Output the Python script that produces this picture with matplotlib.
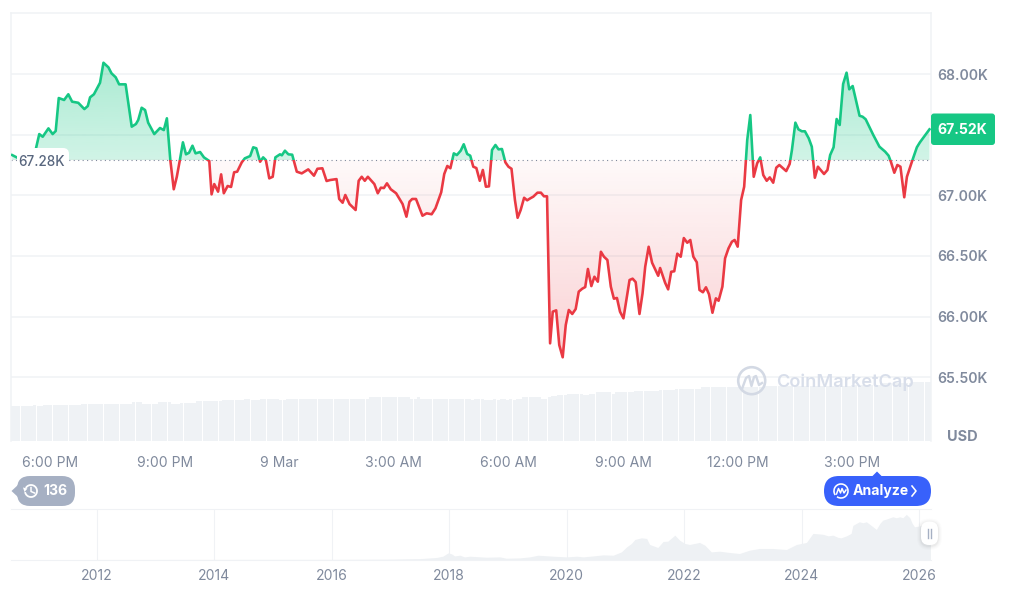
import numpy as np
import matplotlib
matplotlib.use("Agg")
import matplotlib.pyplot as plt
from matplotlib.patches import FancyBboxPatch, Circle, Arc, Polygon, Rectangle

# hours since 6:00 PM and BTC price in USD
hours = [-0.99, -0.84, -0.37, -0.28, -0.19, -0.04, 0.07, 0.15, 0.23, 0.37, 0.48, 0.58, 0.74, 0.90, 0.99, 1.05,
         1.15, 1.31, 1.40, 1.53, 1.61, 1.72, 1.81, 1.98, 2.14, 2.25, 2.31, 2.40, 2.49, 2.57, 2.73, 2.88,
         2.98, 3.06, 3.15, 3.24, 3.32, 3.40, 3.48, 3.56, 3.64, 3.73, 3.81, 3.93, 4.03, 4.17, 4.23, 4.30,
         4.40, 4.48, 4.55, 4.65, 4.74, 4.82, 4.90, 5.02, 5.10, 5.24, 5.32, 5.40, 5.50, 5.58, 5.65, 5.74,
         5.83, 5.90, 6.02, 6.07, 6.15, 6.24, 6.34, 6.46, 6.59, 6.76, 6.91, 7.00, 7.13, 7.24, 7.33, 7.50,
         7.57, 7.66, 7.73, 7.84, 8.00, 8.08, 8.16, 8.24, 8.32, 8.49, 8.58, 8.66, 8.74, 8.82, 8.92, 9.06,
         9.23, 9.33, 9.41, 9.48, 9.58, 9.75, 9.86, 9.99, 10.09, 10.24, 10.32, 10.40, 10.48, 10.57, 10.65, 10.75,
         10.83, 10.92, 11.00, 11.08, 11.16, 11.25, 11.33, 11.41, 11.49, 11.57, 11.66, 11.74, 11.83, 11.92, 12.00, 12.08,
         12.17, 12.24, 12.32, 12.41, 12.49, 12.57, 12.65, 12.76, 12.85, 12.93, 13.01, 13.09, 13.16, 13.25, 13.33, 13.42,
         13.50, 13.58, 13.67, 13.76, 13.84, 13.93, 14.01, 14.08, 14.17, 14.25, 14.34, 14.42, 14.50, 14.59, 14.68, 14.76,
         14.84, 14.92, 15.01, 15.17, 15.25, 15.33, 15.43, 15.51, 15.58, 15.67, 15.76, 15.92, 15.97, 16.10, 16.18, 16.26,
         16.34, 16.42, 16.51, 16.59, 16.68, 16.76, 16.84, 16.93, 17.00, 17.09, 17.17, 17.25, 17.34, 17.43, 17.50, 17.60,
         17.67, 17.76, 17.85, 17.92, 18.00, 18.09, 18.17, 18.25, 18.33, 18.42, 18.51, 18.59, 18.67, 18.76, 18.84, 18.93,
         19.01, 19.09, 19.27, 19.36, 19.42, 19.51, 19.59, 19.68, 19.76, 19.86, 19.94, 20.02, 20.10, 20.26, 20.35, 20.42,
         20.51, 20.59, 20.67, 20.76, 20.85, 20.92, 21.01, 21.19, 21.27, 21.35, 21.55, 21.71, 21.86, 21.95, 22.01, 22.10,
         22.18, 22.26, 22.36, 22.43, 22.56, 22.69, 22.77, 22.91, 23.02]
prices = [67332, 67308, 67382, 67505, 67483, 67552, 67505, 67530, 67802, 67786, 67833, 67772, 67763, 67711, 67736, 67808,
          67833, 67928, 68093, 68055, 68006, 67973, 67915, 67915, 67566, 67588, 67621, 67722, 67703, 67599, 67505, 67555,
          67538, 67635, 67291, 67050, 67153, 67291, 67437, 67338, 67351, 67409, 67346, 67357, 67313, 67283, 67008, 67093,
          67030, 67173, 67017, 67077, 67069, 67190, 67195, 67272, 67305, 67324, 67396, 67388, 67277, 67313, 67291, 67140,
          67153, 67313, 67338, 67330, 67368, 67338, 67335, 67195, 67181, 67214, 67162, 67219, 67223, 67118, 67126, 67134,
          66970, 66939, 67003, 66928, 66879, 67120, 67153, 67120, 67153, 67093, 67017, 67063, 67060, 67099, 67050, 67017,
          66928, 66824, 66947, 66970, 66970, 66832, 66852, 66844, 66893, 67025, 67176, 67242, 67223, 67346, 67332, 67368,
          67421, 67341, 67327, 67236, 67225, 67120, 67209, 67071, 67074, 67374, 67415, 67379, 67382, 67272, 67236, 67219,
          66961, 66815, 66879, 66980, 66959, 66975, 66989, 67022, 67022, 66992, 66992, 65780, 66041, 66052, 65766, 65665,
          65931, 66055, 66022, 66063, 66206, 66230, 66244, 66393, 66252, 66329, 66288, 66535, 66494, 66467, 66247, 66148,
          66154, 66041, 65986, 66302, 66313, 66285, 66022, 66192, 66412, 66576, 66444, 66337, 66401, 66280, 66225, 66370,
          66374, 66519, 66494, 66648, 66609, 66632, 66494, 66448, 66220, 66201, 66242, 66184, 66032, 66151, 66131, 66247,
          66481, 66563, 66618, 66632, 66577, 66961, 67071, 67456, 67662, 67153, 67264, 67313, 67167, 67120, 67148, 67104,
          67228, 67250, 67200, 67258, 67374, 67599, 67544, 67528, 67528, 67470, 67401, 67145, 67236, 67176, 67209, 67332,
          67396, 67629, 67580, 67918, 68011, 67874, 67901, 67656, 67648, 67627, 67497, 67401, 67360, 67327, 67277, 67186,
          67250, 67236, 66984, 67153, 67277, 67396, 67437, 67497, 67544]
base_price = 67290

# 5 minute volume bars, billions USD
volumes = [34.8, 34.8, 34.8, 34.8, 34.8, 34.8, 34.8, 36.0, 34.8, 34.8,
           36.2, 36.2, 36.2, 36.2, 36.2, 36.2, 36.2, 36.2, 36.2, 36.2, 36.2, 36.2,
           37.5, 37.5, 37.5, 37.5, 37.5, 37.5, 37.5, 37.5, 37.5, 37.5, 37.5, 37.5, 37.5, 37.5, 37.5, 37.5,
           38.8, 38.8, 38.8, 37.5, 37.5, 37.5, 37.5, 37.5, 38.8, 38.8, 38.8, 38.8, 37.5, 37.5, 37.5,
           38.5, 38.5, 38.5, 38.5, 38.5, 40.2, 40.2, 40.2, 40.2, 40.2, 40.2, 40.2, 40.2,
           41.2, 41.2, 41.2, 41.2, 41.2, 41.2, 41.2, 42.2, 42.2, 41.2, 41.2, 41.2,
           42.2, 42.2, 42.2, 42.2, 42.2, 42.2, 41.2, 41.2,
           42.5, 42.5, 42.5, 42.5, 42.5, 42.5, 42.5, 42.5, 42.5, 42.5, 42.5,
           42.5, 42.5, 42.5, 42.5, 42.5, 42.5, 42.5, 42.5, 42.5, 42.5, 42.5, 42.5, 42.5, 42.5, 42.5,
           43.8, 43.8, 43.8, 43.8, 43.8, 43.8, 43.8, 43.8, 43.8, 43.8, 43.8, 43.8, 43.8,
           42.5, 42.5, 43.8,
           42.5, 42.5, 42.5, 42.5, 42.5, 42.5, 42.5, 42.5, 42.5, 42.5, 42.5, 42.5, 42.5, 42.5, 42.5, 42.5,
           41.2, 42.5, 42.5, 42.5, 41.2, 41.2, 41.2, 42.5, 41.2, 42.5, 42.5, 41.2, 42.5, 41.2, 42.5, 42.5,
           43.8, 43.8, 43.8, 43.8, 43.8, 43.8, 42.5, 42.5, 43.8, 45.2, 45.2, 46.5, 46.5, 46.5,
           47.5, 47.5, 47.5, 47.5, 47.5, 46.5, 46.5, 47.5, 47.5, 48.8, 48.8, 48.8, 48.8, 48.8, 47.5,
           48.8, 48.8, 48.8, 48.8, 48.8, 48.8, 50.2, 50.2,
           49.8, 49.8, 49.8, 49.8, 49.8, 49.8, 51.2, 51.2, 51.2, 51.2, 51.2,
           52.5, 52.5, 52.5, 52.5, 52.5, 52.5, 52.5, 52.5,
           53.8, 53.8, 53.8, 53.8, 53.8, 53.8, 53.8, 53.8, 53.8, 53.8,
           53.8, 53.8, 53.8, 53.8, 53.8, 53.8, 53.8, 53.8, 53.8, 53.8,
           54.8, 54.8, 54.8, 54.8, 54.8, 54.8, 54.8, 54.8, 54.8, 54.8, 54.8, 54.8, 54.8, 54.8,
           54.8, 54.8, 54.8, 54.8, 54.8, 54.8, 54.8, 54.8, 54.8, 54.8, 54.8, 54.8, 54.8,
           56.5, 56.5, 56.5, 56.5, 56.5, 56.5, 56.5, 56.5, 56.5,
           57.8, 57.8, 57.8, 57.8, 57.8, 57.8, 57.8, 57.8, 57.8, 57.8,
           59.2, 59.2, 59.2, 59.2, 59.2, 59.2]

# all time overview, price in thousands USD
overview_years = [2010.54, 2012.0, 2013.9, 2016.0, 2017.0, 2017.5, 2017.78, 2017.89, 2017.98, 2018.04, 2018.09,
                  2018.18, 2018.26, 2018.35, 2018.63, 2018.86, 2018.97, 2019.20, 2019.37, 2019.51, 2019.77,
                  2020.0, 2020.17, 2020.28, 2020.45, 2020.62, 2020.79, 2020.93, 2021.02, 2021.10, 2021.16,
                  2021.27, 2021.36, 2021.41, 2021.55, 2021.64, 2021.72, 2021.84, 2021.92, 2022.01, 2022.09,
                  2022.26, 2022.35, 2022.46, 2022.60, 2022.77, 2022.94, 2023.11, 2023.28, 2023.50, 2023.74,
                  2023.91, 2024.08, 2024.19, 2024.28, 2024.36, 2024.45, 2024.53, 2024.62, 2024.67, 2024.76, 2024.84, 2024.87,
                  2024.93, 2024.98, 2025.04, 2025.10, 2025.19, 2025.27, 2025.33, 2025.38, 2025.44, 2025.55, 2025.61,
                  2025.67, 2025.72, 2025.78, 2025.84, 2025.88, 2025.92, 2026.01, 2026.06, 2026.19]
overview_prices = [0.0, 0.0, 0.3, 0.4, 1.0, 2.5, 5.6, 9.2, 18.5, 15.7, 10.0,
                   12.0, 7.3, 9.2, 6.4, 7.3, 3.6, 4.5, 7.3, 12.0, 9.2,
                   7.3, 9.2, 7.3, 10.0, 12.9, 12.0, 21.3, 35.3, 44.8, 56.0,
                   60.5, 58.8, 42.0, 33.6, 50.4, 51.2, 68.0, 54.0, 44.8, 42.0,
                   47.6, 40.0, 21.3, 23.2, 19.6, 16.8, 26.0, 30.8, 30.8, 28.0,
                   42.0, 47.6, 72.8, 71.7, 70.4, 66.0, 68.0, 61.6, 60.5, 66.0, 72.8, 95.2,
                   100.8, 105.3, 102.6, 105.3, 94.1, 84.0, 100.8, 110.0, 112.9, 119.3, 116.5,
                   119.3, 116.5, 126.0, 116.5, 100.8, 91.3, 94.0, 96.0, 86.8]

price_ticks = [65500, 66000, 66500, 67000, 67500, 68000]
# the 67.50K label sits under the live price badge
price_labels = ["65.50K", "66.00K", "66.50K", "67.00K", "", "68.00K"]
time_ticks = [0, 3, 6, 9, 12, 15, 18, 21]
time_labels = ["6:00 PM", "9:00 PM", "9 Mar", "3:00 AM", "6:00 AM", "9:00 AM", "12:00 PM", "3:00 PM"]
year_ticks = [2012, 2014, 2016, 2018, 2020, 2022, 2024, 2026]

GREEN = "#16c784"
RED = "#ea3943"
GRID = "#f0f2f5"
LABEL = "#808a9d"
W, H = 1011, 610

plt.rcParams["font.family"] = ["Inter", "DejaVu Sans"]


def px_axes(left, top, right, bottom, **kw):
    return fig.add_axes([left / W, 1 - bottom / H, (right - left) / W, (bottom - top) / H], **kw)


def px(size):
    return size * 72 / 100


def gradient(ax, color, a_top, a_bottom, ymin, ymax, clip):
    rgba = np.zeros((64, 1, 4))
    rgba[..., :3] = matplotlib.colors.to_rgb(color)
    rgba[..., 3] = np.linspace(a_top, a_bottom, 64)[:, None]
    x0, x1 = ax.get_xlim()
    im = ax.imshow(rgba, extent=[x0, x1, ymin, ymax], aspect="auto", origin="upper", zorder=1, interpolation="bilinear")
    im.set_clip_path(clip, transform=ax.transData)


fig = plt.figure(figsize=(W / 100, H / 100), dpi=100, facecolor="white")

# volume sits behind the price pane
xlim = (-1.02, 23.06)
ylim = (64975, 68503)
ax_vol = px_axes(11, 13, 931, 441)
ax_vol.set_xlim(*xlim)
ax_vol.set_ylim(0, 428)
ax_vol.axis("off")
edges = np.linspace(xlim[0], xlim[1], len(volumes) + 1)[:-1]
step = (xlim[1] - xlim[0]) / len(volumes)
ax_vol.bar(edges, volumes, width=step * 0.94, align="edge", color="#eff2f5", linewidth=0)

ax = px_axes(11, 13, 931, 441, sharex=ax_vol)
ax.patch.set_alpha(0)
ax.set_ylim(*ylim)
for name in ["left", "right", "top"]:
    ax.spines[name].set_color(GRID)
    ax.spines[name].set_linewidth(1.1)
ax.spines["bottom"].set_visible(False)
ax.yaxis.tick_right()
ax.set_yticks(price_ticks, price_labels)
ax.set_xticks(time_ticks, time_labels)
ax.tick_params(axis="y", length=0, pad=4.5, labelsize=px(14), labelcolor=LABEL)
ax.tick_params(axis="x", length=0, pad=11, labelsize=px(14), labelcolor=LABEL)
for lab in ax.get_yticklabels():
    lab.set_fontweight(600)
ax.grid(axis="y", color=GRID, linewidth=1.1, zorder=0)
ax.set_axisbelow(True)

fill = ax.fill_between(hours, prices, base_price, color="none", linewidth=0)
area = fill.get_paths()[0]
gradient(ax, GREEN, 0.36, 0.2, base_price, max(prices), area)
gradient(ax, RED, 0.03, 0.23, min(prices), base_price, area)
ax.set_xlim(*xlim)
ax.set_ylim(*ylim)

line_up, = ax.plot(hours, prices, color=GREEN, lw=px(2.6), solid_joinstyle="round", zorder=3)
line_up.set_clip_path(Rectangle((xlim[0], base_price), xlim[1] - xlim[0], ylim[1] - base_price, transform=ax.transData))
line_dn, = ax.plot(hours, prices, color=RED, lw=px(2.6), solid_joinstyle="round", zorder=3)
line_dn.set_clip_path(Rectangle((xlim[0], ylim[0]), xlim[1] - xlim[0], base_price - ylim[0], transform=ax.transData))
ax.axhline(base_price, color="#808a9d", lw=0.8, dashes=(1, 3), zorder=2)

# all time strip
ax_all = px_axes(11, 509, 931, 559.5)
ax_all.set_xlim(2010.54, 2026.2)
ax_all.set_ylim(0, 141)
for name in ["left", "right"]:
    ax_all.spines[name].set_visible(False)
ax_all.spines["top"].set_color(GRID)
ax_all.spines["bottom"].set_color(GRID)
ax_all.fill_between(overview_years, overview_prices, 0, color="#eef1f4", linewidth=0, zorder=2)
ax_all.set_yticks([])
ax_all.set_xticks(year_ticks, [str(y) for y in year_ticks])
ax_all.tick_params(axis="x", length=0, pad=7, labelsize=px(14), labelcolor=LABEL)
ax_all.grid(axis="x", color=GRID, linewidth=0.8, zorder=1)

# badges and watermark, laid out in pixels
ui = fig.add_axes([0, 0, 1, 1], zorder=10)
ui.set_xlim(0, W)
ui.set_ylim(H, 0)
ui.axis("off")


def pill(x0, y0, x1, y1, r, color, **kw):
    ui.add_patch(FancyBboxPatch((x0, y0), x1 - x0, y1 - y0, boxstyle=f"round,pad=0,rounding_size={r}",
                                facecolor=color, edgecolor="none", **kw))


pill(17, 148, 69, 172, 6, "white")
ui.text(41.5, 162, "67.28K", ha="center", va="center", fontsize=px(13.5), color="#58667e", fontweight=500)

pill(931, 113.5, 995, 145, 3, GREEN)
ui.text(962.5, 129.5, "67.52K", ha="center", va="center", fontsize=px(14), color="white", fontweight="bold")

ui.text(962, 437, "USD", ha="center", va="center", fontsize=px(14.5), color=LABEL, fontweight="bold")

# watermark
ui.add_patch(Circle((751.7, 380.7), 13.5, fill=False, edgecolor="#d3d9e4", lw=px(2.6)))
ui.plot([742, 746, 749, 751.5, 754, 756, 759, 762], [389, 378, 376, 386, 377, 376, 385, 383],
        color="#d3d9e4", lw=px(2.4), solid_joinstyle="round")
ui.text(776.5, 382, "CoinMarketCap", ha="left", va="center", fontsize=px(18.2), color="#d8deea", fontweight=600)

# history pill
ui.add_patch(Polygon([[11.5, 491], [19, 484], [19, 498]], closed=True, facecolor="#a6b0c3", edgecolor="none"))
pill(17, 476, 75, 506, 13, "#a6b0c3")
ui.add_patch(Arc((31, 491), 12, 12, theta1=-150, theta2=170, edgecolor="white", lw=px(1.8)))
ui.plot([31, 31, 34.5], [487.5, 491.5, 493], color="white", lw=px(1.5))
ui.add_patch(Polygon([[23, 487.5], [27.5, 488.5], [24.5, 492]], closed=True, facecolor="white", edgecolor="none"))
ui.text(55.5, 491, "136", ha="center", va="center", fontsize=px(14), color="white", fontweight="bold")

# analyze button
ui.add_patch(Polygon([[877, 471.5], [871.5, 477], [882.5, 477]], closed=True, facecolor="#3861fb", edgecolor="none"))
pill(824, 476, 931, 506, 15, "#3861fb")
ui.add_patch(Arc((841, 491), 14, 14, theta1=-215, theta2=125, edgecolor="white", lw=px(1.6)))
ui.plot([836.5, 838.5, 840.5, 842, 844, 846], [494, 488.5, 493, 488.5, 493, 490], color="white", lw=px(1.5))
ui.text(880.5, 491, "Analyze", ha="center", va="center", fontsize=px(14), color="white", fontweight="bold")
ui.plot([912, 916, 912], [486, 491, 496], color="white", lw=px(1.6), solid_joinstyle="round")

# range handle with a soft shadow
for grow, shade in [(4, 0.012), (3, 0.015), (2, 0.02), (1, 0.03)]:
    pill(921 - grow, 522.5 - grow, 938 + grow, 546 + grow, 8 + grow, "#000000", alpha=shade)
pill(921, 521.5, 938, 545, 8, "white")
ui.plot([927.5, 927.5], [529, 538], color="#a6b0c3", lw=px(1.4))
ui.plot([931, 931], [529, 538], color="#a6b0c3", lw=px(1.4))

plt.savefig("out.png", dpi=100, facecolor="white")
